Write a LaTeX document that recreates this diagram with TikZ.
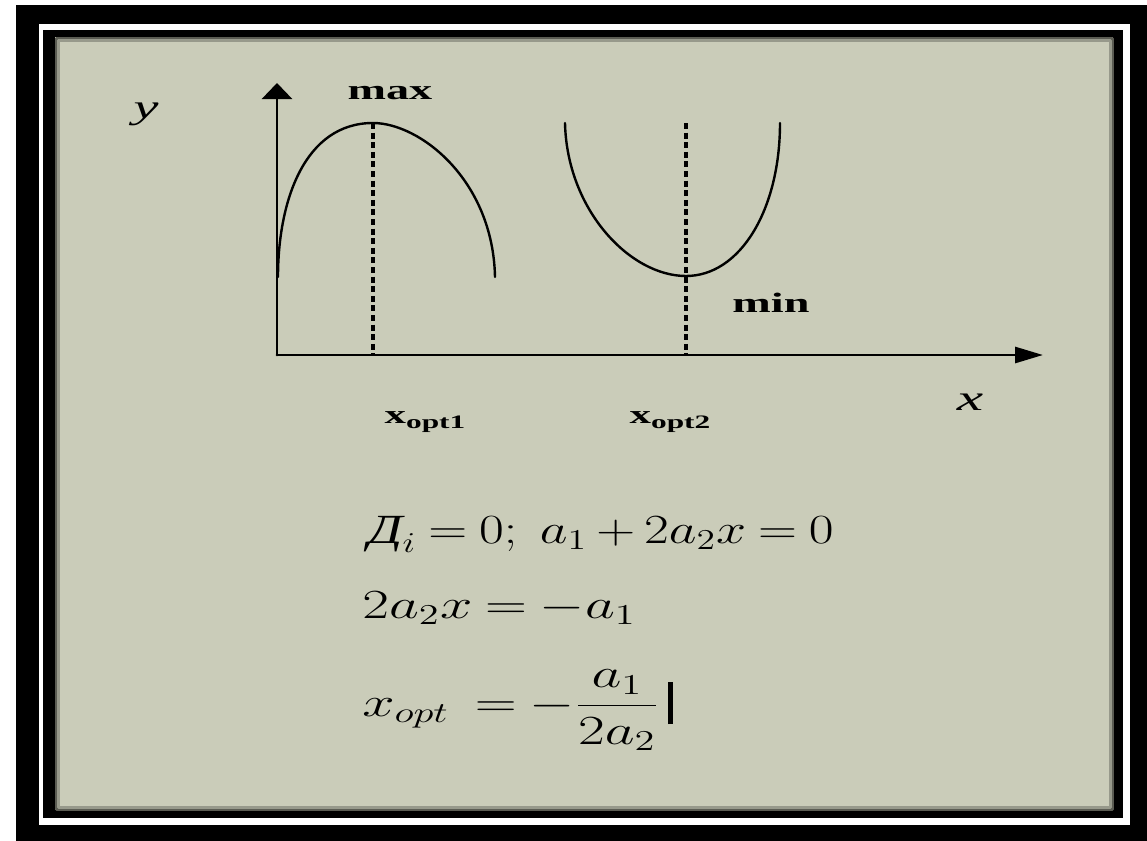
\documentclass[tikz,border=0pt]{standalone}
\usepackage{amsmath}
\usepackage{fontspec}
\setmainfont{Liberation Serif}
\usetikzlibrary{arrows.meta}
\definecolor{slide}{RGB}{202,204,185}
\newcommand{\wide}[1]{\scalebox{1.65}[1]{#1}}
\newcommand{\eqwide}[2][1.4]{\scalebox{#1}[1]{#2}}
\newcommand{\fs}[1]{\fontsize{#1}{#1}\selectfont}
\thickmuskip=4mu plus 2mu
\medmuskip=3mu plus 1mu

\begin{document}
\begin{tikzpicture}[x=.5pt,y=-.5pt, line join=round, line cap=round, inner sep=0pt]
	\useasboundingbox (0,0) rectangle (1147,841);
	% frame
	\fill[black] (16,5) rectangle (1147,841);
	\fill[white] (39,24) rectangle (1130,825);
	\fill[black] (43,30) rectangle (1123,818);
	\fill[slide] (55,37) rectangle (1113,810);
	\draw[slide!45!black, line width=1.5] (56,38) rectangle (1112,809);
	\draw[slide!75!black, line width=1.5] (58,40) rectangle (1110,807);
	% axes
	\coordinate (O) at (277,355);
	\coordinate (ytip) at (277,83);
	\coordinate (xtip) at (1043,355);
	\draw[line width=1.4pt, -{Triangle[length=8pt,width=15pt]}] (O)--(ytip);
	\draw[line width=1.4pt, -{Triangle[length=14pt,width=8pt]}] (O)--(xtip);
	% curves
	\coordinate (top) at (373,123);
	\coordinate (bot) at (686,276);
	\draw[line width=1.2pt] (278,277) .. controls (278,200) and (305,123) .. (top)
		.. controls (420,123) and (493,180) .. (495,277);
	\draw[line width=1.2pt] (565,123) .. controls (567,210) and (630,276) .. (bot)
		.. controls (740,276) and (780,210) .. (780,123);
	\draw[line width=2pt, dash pattern=on 3pt off 1.8pt, line cap=butt] (top)--(top|-O);
	\draw[line width=2pt, dash pattern=on 3pt off 1.8pt, line cap=butt] (686,123)--(bot|-O);
	% labels
	\path
	(146,118) node[anchor=base] (ylab) {\wide{\fs{17}\itshape y}}
	(970,410) node[anchor=base] (xlab) {\wide{\fs{18}\itshape x}}
	(390,99) node[anchor=base] (maxlab) {\wide{\fs{14}\bfseries max}}
	(771,312) node[anchor=base] (minlab) {\wide{\fs{14}\bfseries min}}
	(425,423) node[anchor=base] (opt1) {\wide{\fs{13}\bfseries x\raisebox{-2.5pt}{\fs{9.5}opt1}}}
	(670,423) node[anchor=base] (opt2) {\wide{\fs{13}\bfseries x\raisebox{-2.5pt}{\fs{9.5}opt2}}};
	% formulas
	\path
	(368,543) node[anchor=base west] (eq1) {\eqwide[1.3]{\fs{20.74}$\text{\itshape Д}_i = 0;\ a_1 + 2a_2x = 0$}}
	(362,618) node[anchor=base west] (eq2) {\eqwide{\fs{20.74}$2a_2x = -a_1$}}
	(362,716) node[anchor=base west] (eq3) {\eqwide{\fs{20.74}$x_{opt}\; = -\dfrac{a_1}{2a_2}$\hspace{3pt}\rule[-4pt]{2pt}{21pt}}};
\end{tikzpicture}
\end{document}
